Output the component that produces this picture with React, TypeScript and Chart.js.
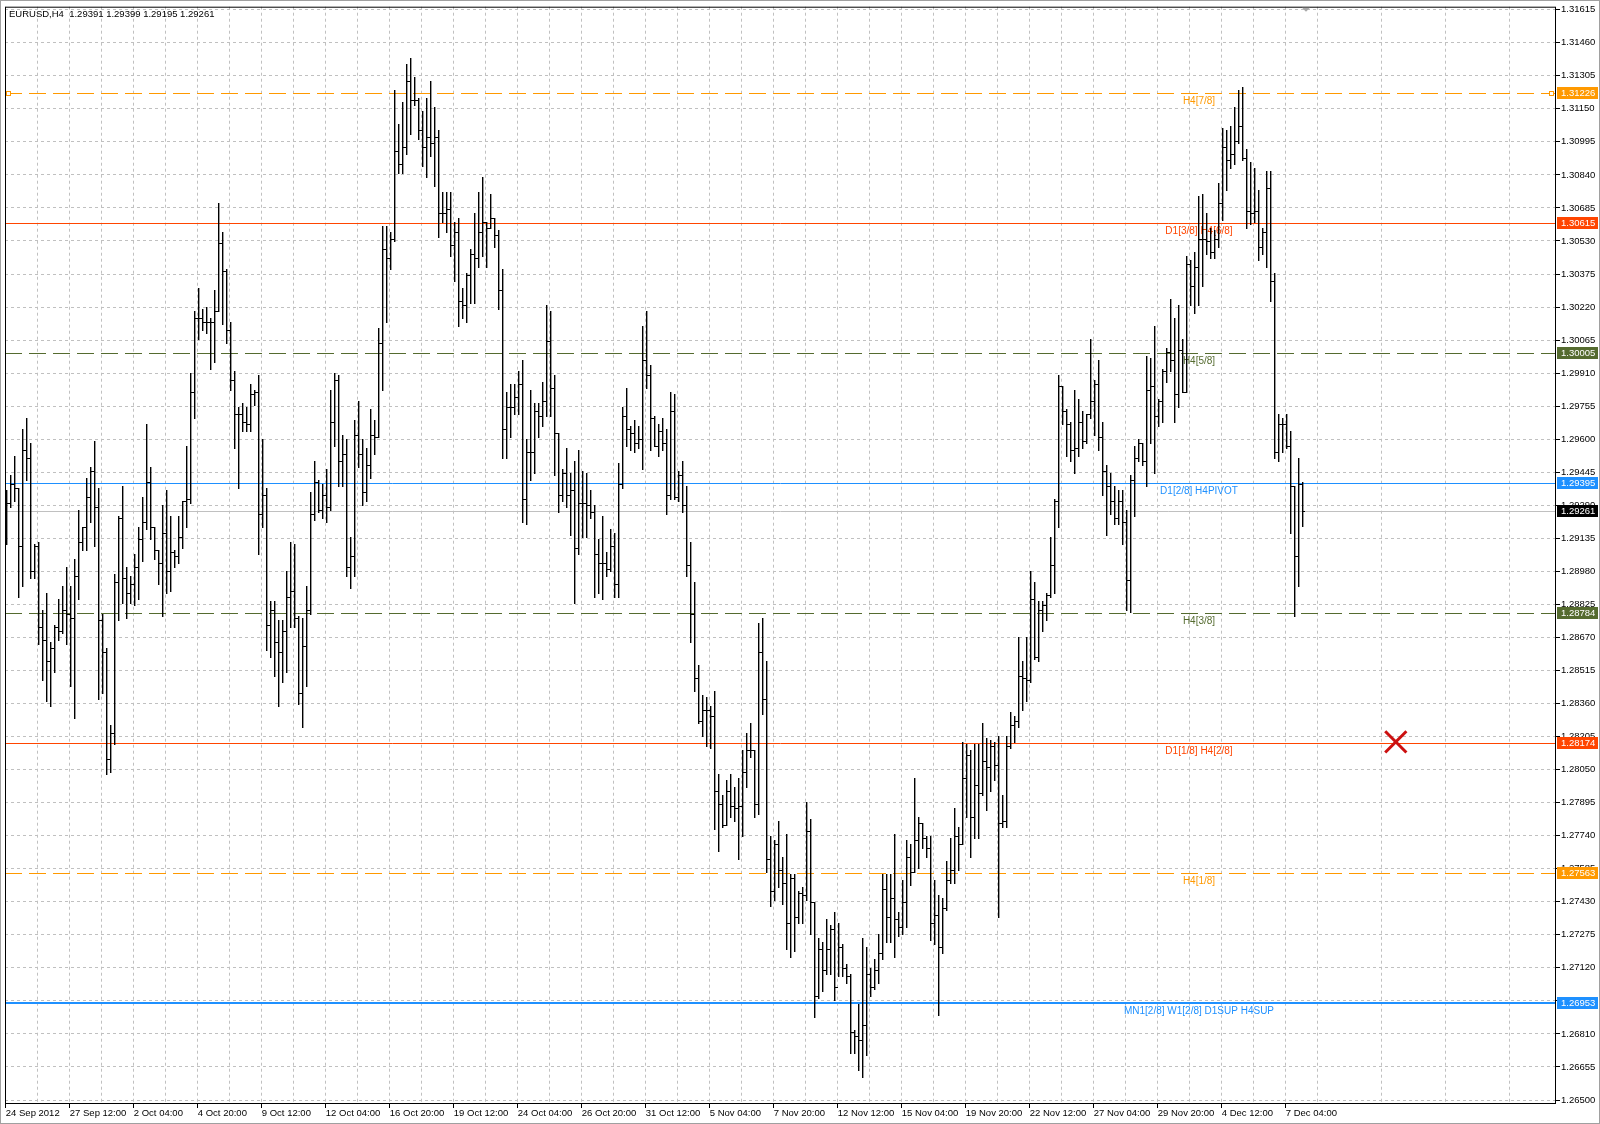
import React, { useEffect, useRef } from 'react';
import { Chart, registerables } from 'chart.js';

Chart.register(...registerables);

// ---------------- data ----------------
const symbol = 'EURUSD,H4';

const xLabels = [
  '24 Sep 2012', '27 Sep 12:00', '2 Oct 04:00', '4 Oct 20:00', '9 Oct 12:00', '12 Oct 04:00',
  '16 Oct 20:00', '19 Oct 12:00', '24 Oct 04:00', '26 Oct 20:00', '31 Oct 12:00', '5 Nov 04:00',
  '7 Nov 20:00', '12 Nov 12:00', '15 Nov 04:00', '19 Nov 20:00', '22 Nov 12:00', '27 Nov 04:00',
  '29 Nov 20:00', '4 Dec 12:00', '7 Dec 04:00',
];

const yTickLabels = [
  '1.26500', '1.26655', '1.26810', '1.26965', '1.27120', '1.27275', '1.27430', '1.27585', '1.27740',
  '1.27895', '1.28050', '1.28205', '1.28360', '1.28515', '1.28670', '1.28825', '1.28980', '1.29135',
  '1.29290', '1.29445', '1.29600', '1.29755', '1.29910', '1.30065', '1.30220', '1.30375', '1.30530',
  '1.30685', '1.30840', '1.30995', '1.31150', '1.31305', '1.31460', '1.31615',
];

const opens = [
  1.2925, 1.2930, 1.2939, 1.2937, 1.2910, 1.2955, 1.2951, 1.2898, 1.2910, 1.2872,
  1.2866, 1.2856, 1.2862, 1.2872, 1.2870, 1.2880, 1.2878, 1.2876, 1.2896, 1.2912,
  1.2919, 1.2933, 1.2945, 1.2928, 1.2875, 1.2860, 1.2810, 1.2822, 1.2893, 1.2923,
  1.2895, 1.2888, 1.2892, 1.2900, 1.2913, 1.2921, 1.2940, 1.2919, 1.2908, 1.2902,
  1.2916, 1.2898, 1.2907, 1.2905, 1.2914, 1.2931, 1.2932, 1.2982, 1.3017, 1.3017,
  1.3015, 1.3015, 1.3015, 1.3020, 1.3052, 1.3039, 1.3011, 1.2988, 1.2972, 1.2972,
  1.2968, 1.2967, 1.2981, 1.2982, 1.2925, 1.2934, 1.2873, 1.2880, 1.2865, 1.2860,
  1.2870, 1.2886, 1.2889, 1.2876, 1.2841, 1.2863, 1.2880, 1.2925, 1.2940, 1.2927,
  1.2934, 1.2928, 1.2968, 1.2988, 1.2950, 1.2953, 1.2900, 1.2905, 1.2962, 1.2953,
  1.2935, 1.2948, 1.2962, 1.2961, 1.3005, 1.3049, 1.3045, 1.3054, 1.3095, 1.3089,
  1.3097, 1.3128, 1.3119, 1.3119, 1.3105, 1.3097, 1.3102, 1.3099, 1.3102, 1.3066,
  1.3066, 1.3068, 1.3051, 1.3057, 1.3025, 1.3023, 1.3037, 1.3047, 1.3045, 1.3057,
  1.3062, 1.3059, 1.3064, 1.3056, 1.3030, 1.2965, 1.2975, 1.2975, 1.2980, 1.2986,
  1.2932, 1.2954, 1.2954, 1.2973, 1.2971, 1.2978, 1.3006, 1.2984, 1.2963, 1.2934,
  1.2944, 1.2934, 1.2936, 1.2909, 1.2930, 1.2930, 1.2929, 1.2926, 1.2906, 1.2902,
  1.2902, 1.2899, 1.2910, 1.2892, 1.2939, 1.2971, 1.2965, 1.2963, 1.2958, 1.2960,
  1.2997, 1.2990, 1.2970, 1.2957, 1.2964, 1.2958, 1.2934, 1.2973, 1.2933, 1.2943,
  1.2929, 1.2901, 1.2878, 1.2848, 1.2828, 1.2833, 1.2833, 1.2830, 1.2795, 1.2789,
  1.2779, 1.2795, 1.2788, 1.2787, 1.2788, 1.2804, 1.2814, 1.2814, 1.2789, 1.2860,
  1.2838, 1.2763, 1.2748, 1.2770, 1.2758, 1.2752, 1.2733, 1.2754, 1.2736, 1.2747,
  1.2746, 1.2776, 1.2743, 1.2699, 1.2721, 1.2711, 1.2721, 1.2730, 1.2703, 1.2722,
  1.2712, 1.2708, 1.2682, 1.2680, 1.2678, 1.2685, 1.2709, 1.2703, 1.2711, 1.2719,
  1.2749, 1.2736, 1.2745, 1.2735, 1.2731, 1.2743, 1.2764, 1.2757, 1.2772, 1.2780,
  1.2773, 1.2768, 1.2733, 1.2737, 1.2722, 1.2740, 1.2753, 1.2758, 1.2774, 1.2770,
  1.2801, 1.2812, 1.2783, 1.2798, 1.2794, 1.2809, 1.2806, 1.2816, 1.2807, 1.2780,
  1.2781, 1.2816, 1.2826, 1.2828, 1.2849, 1.2848, 1.2847, 1.2885, 1.2858, 1.2880,
  1.2882, 1.2887, 1.2901, 1.2931, 1.2985, 1.2973, 1.2967, 1.2955, 1.2956, 1.2968,
  1.2959, 1.2972, 1.2978, 1.2986, 1.2961, 1.2945, 1.2938, 1.2931, 1.2923, 1.2931,
  1.2921, 1.2894, 1.2941, 1.2951, 1.2958, 1.2950, 1.2983, 1.2985, 1.2971, 1.2978,
  1.2992, 1.3001, 1.2997, 1.2981, 1.3002, 1.2982, 1.3042, 1.3032, 1.3041, 1.3054,
  1.3054, 1.3053, 1.3048, 1.3054, 1.3071, 1.3097, 1.3091, 1.3094, 1.3100, 1.3107,
  1.3092, 1.3067, 1.3066, 1.3067, 1.3050, 1.3057, 1.3078, 1.3034, 1.2954, 1.2967,
  1.2967, 1.2957, 1.2938, 1.2905, 1.29391,
];

const highs = [
  1.2936, 1.2943, 1.2952, 1.2937, 1.2965, 1.2970, 1.2958, 1.2911, 1.2912, 1.2880,
  1.2888, 1.2865, 1.2873, 1.2885, 1.2891, 1.2900, 1.2891, 1.2904, 1.2927, 1.2919,
  1.2942, 1.2947, 1.2959, 1.2937, 1.2878, 1.2862, 1.2826, 1.2897, 1.2924, 1.2938,
  1.2900, 1.2896, 1.2906, 1.2919, 1.2933, 1.2967, 1.2947, 1.2919, 1.2908, 1.2929,
  1.2936, 1.2924, 1.2908, 1.2924, 1.2931, 1.2957, 1.2991, 1.3020, 1.3031, 1.3021,
  1.3022, 1.3017, 1.3030, 1.3071, 1.3057, 1.3040, 1.3015, 1.2992, 1.2975, 1.2977,
  1.2975, 1.2986, 1.2983, 1.2990, 1.2960, 1.2937, 1.2884, 1.2884, 1.2875, 1.2875,
  1.2898, 1.2912, 1.2911, 1.2877, 1.2876, 1.2891, 1.2935, 1.2950, 1.2941, 1.2939,
  1.2946, 1.2983, 1.2991, 1.2990, 1.2962, 1.2960, 1.2914, 1.2969, 1.2978, 1.2960,
  1.2956, 1.2974, 1.2969, 1.3012, 1.3060, 1.3060, 1.3057, 1.3124, 1.3108, 1.3118,
  1.3136, 1.3139, 1.3130, 1.3120, 1.3114, 1.3120, 1.3128, 1.3116, 1.3105, 1.3076,
  1.3076, 1.3076, 1.3062, 1.3064, 1.3031, 1.3038, 1.3049, 1.3066, 1.3076, 1.3083,
  1.3062, 1.3075, 1.3064, 1.3058, 1.3040, 1.2982, 1.2986, 1.2986, 1.2992, 1.2997,
  1.2960, 1.2983, 1.2977, 1.2977, 1.2987, 1.3023, 1.3020, 1.2990, 1.2963, 1.2946,
  1.2956, 1.2944, 1.2950, 1.2955, 1.2945, 1.2944, 1.2936, 1.2929, 1.2913, 1.2924,
  1.2907, 1.2918, 1.2916, 1.2949, 1.2975, 1.2984, 1.2966, 1.2969, 1.2966, 1.3013,
  1.3020, 1.2995, 1.2971, 1.2967, 1.2970, 1.2965, 1.2982, 1.2981, 1.2945, 1.2950,
  1.2938, 1.2912, 1.2893, 1.2854, 1.2840, 1.2839, 1.2835, 1.2842, 1.2803, 1.2793,
  1.2800, 1.2803, 1.2797, 1.2801, 1.2814, 1.2822, 1.2827, 1.2814, 1.2874, 1.2876,
  1.2856, 1.2774, 1.2772, 1.2781, 1.2764, 1.2775, 1.2756, 1.2756, 1.2748, 1.2750,
  1.2790, 1.2782, 1.2743, 1.2726, 1.2724, 1.2735, 1.2732, 1.2738, 1.2733, 1.2723,
  1.2714, 1.2709, 1.2683, 1.2695, 1.2726, 1.2722, 1.2712, 1.2716, 1.2728, 1.2756,
  1.2756, 1.2756, 1.2775, 1.2738, 1.2753, 1.2772, 1.2770, 1.2801, 1.2783, 1.2780,
  1.2774, 1.2774, 1.2753, 1.2746, 1.2745, 1.2762, 1.2773, 1.2787, 1.2778, 1.2818,
  1.2817, 1.2814, 1.2817, 1.2817, 1.2827, 1.2820, 1.2819, 1.2818, 1.2821, 1.2793,
  1.2821, 1.2832, 1.2830, 1.2867, 1.2856, 1.2867, 1.2898, 1.2893, 1.2884, 1.2884,
  1.2888, 1.2914, 1.2932, 1.2990, 1.2985, 1.2974, 1.2968, 1.2983, 1.2979, 1.2973,
  1.2972, 1.3007, 1.2988, 1.2997, 1.2968, 1.2948, 1.2944, 1.2938, 1.2936, 1.2936,
  1.2927, 1.2943, 1.2957, 1.2960, 1.2958, 1.2999, 1.2998, 1.3013, 1.2979, 1.2993,
  1.3003, 1.3026, 1.3017, 1.3023, 1.3007, 1.3046, 1.3044, 1.3048, 1.3074, 1.3075,
  1.3066, 1.3059, 1.3058, 1.3080, 1.3106, 1.3105, 1.3107, 1.3116, 1.3124, 1.3125,
  1.3096, 1.3090, 1.3087, 1.3077, 1.3059, 1.3086, 1.3086, 1.3038, 1.2972, 1.2970,
  1.2972, 1.2964, 1.2938, 1.2951, 1.29399,
];

const lows = [
  1.2911, 1.2928, 1.2931, 1.2886, 1.2891, 1.2941, 1.2895, 1.2895, 1.2864, 1.2847,
  1.2837, 1.2835, 1.2851, 1.2866, 1.2869, 1.2864, 1.2844, 1.2829, 1.2885, 1.2908,
  1.2908, 1.2921, 1.2910, 1.2838, 1.2841, 1.2803, 1.2804, 1.2817, 1.2875, 1.2883,
  1.2876, 1.2883, 1.2882, 1.2885, 1.2903, 1.2918, 1.2913, 1.2904, 1.2892, 1.2877,
  1.2888, 1.2889, 1.2900, 1.2902, 1.2909, 1.2919, 1.2930, 1.2970, 1.3007, 1.3011,
  1.3010, 1.2993, 1.2996, 1.3020, 1.3014, 1.3005, 1.2983, 1.2956, 1.2937, 1.2964,
  1.2964, 1.2964, 1.2976, 1.2906, 1.2919, 1.2861, 1.2858, 1.2849, 1.2835, 1.2846,
  1.2851, 1.2872, 1.2872, 1.2836, 1.2825, 1.2844, 1.2878, 1.2922, 1.2926, 1.2923,
  1.2921, 1.2927, 1.2957, 1.2938, 1.2938, 1.2896, 1.2890, 1.2896, 1.2947, 1.2929,
  1.2931, 1.2942, 1.2953, 1.2961, 1.2983, 1.3015, 1.3040, 1.3053, 1.3085, 1.3085,
  1.3094, 1.3103, 1.3117, 1.3101, 1.3088, 1.3083, 1.3093, 1.3079, 1.3055, 1.3062,
  1.3057, 1.3046, 1.3034, 1.3013, 1.3017, 1.3015, 1.3024, 1.3024, 1.3041, 1.3046,
  1.3041, 1.3059, 1.3050, 1.3021, 1.2951, 1.2951, 1.2961, 1.2972, 1.2972, 1.2921,
  1.2920, 1.2941, 1.2944, 1.2961, 1.2966, 1.2971, 1.2971, 1.2943, 1.2926, 1.2931,
  1.2928, 1.2915, 1.2883, 1.2906, 1.2914, 1.2914, 1.2923, 1.2886, 1.2888, 1.2885,
  1.2896, 1.2898, 1.2886, 1.2886, 1.2937, 1.2957, 1.2955, 1.2954, 1.2956, 1.2946,
  1.2984, 1.2955, 1.2957, 1.2952, 1.2955, 1.2925, 1.2932, 1.2932, 1.2931, 1.2926,
  1.2896, 1.2865, 1.2842, 1.2827, 1.2821, 1.2816, 1.2815, 1.2777, 1.2767, 1.2778,
  1.2779, 1.2783, 1.2781, 1.2763, 1.2774, 1.2797, 1.2811, 1.2783, 1.2784, 1.2831,
  1.2757, 1.2741, 1.2744, 1.2750, 1.2742, 1.2721, 1.2717, 1.2720, 1.2733, 1.2733,
  1.2744, 1.2728, 1.2689, 1.2698, 1.2701, 1.2709, 1.2709, 1.2697, 1.2708, 1.2708,
  1.2705, 1.2672, 1.2672, 1.2664, 1.2661, 1.2671, 1.2699, 1.2702, 1.2705, 1.2716,
  1.2724, 1.2724, 1.2717, 1.2727, 1.2728, 1.2731, 1.2751, 1.2757, 1.2759, 1.2768,
  1.2764, 1.2725, 1.2723, 1.2690, 1.2719, 1.2739, 1.2752, 1.2752, 1.2758, 1.2770,
  1.2783, 1.2764, 1.2773, 1.2773, 1.2793, 1.2786, 1.2795, 1.2800, 1.2736, 1.2778,
  1.2778, 1.2815, 1.2818, 1.2825, 1.2833, 1.2837, 1.2846, 1.2857, 1.2856, 1.2870,
  1.2875, 1.2886, 1.2888, 1.2919, 1.2967, 1.2952, 1.2950, 1.2944, 1.2952, 1.2956,
  1.2958, 1.2970, 1.2962, 1.2955, 1.2934, 1.2915, 1.2925, 1.2920, 1.2920, 1.2911,
  1.2880, 1.2879, 1.2924, 1.2950, 1.2948, 1.2938, 1.2958, 1.2944, 1.2966, 1.2968,
  1.2987, 1.2992, 1.2968, 1.2975, 1.2982, 1.2982, 1.3023, 1.3019, 1.3023, 1.3032,
  1.3047, 1.3045, 1.3045, 1.3050, 1.3063, 1.3077, 1.3087, 1.3089, 1.3099, 1.3091,
  1.3059, 1.3061, 1.3062, 1.3044, 1.3047, 1.3041, 1.3025, 1.2951, 1.2950, 1.2954,
  1.2956, 1.2916, 1.2877, 1.2891, 1.29195,
];

const closes = [
  1.2930, 1.2939, 1.2937, 1.2910, 1.2955, 1.2951, 1.2898, 1.2910, 1.2872, 1.2866,
  1.2856, 1.2862, 1.2872, 1.2870, 1.2880, 1.2878, 1.2876, 1.2896, 1.2912, 1.2919,
  1.2933, 1.2945, 1.2928, 1.2875, 1.2860, 1.2810, 1.2822, 1.2893, 1.2923, 1.2895,
  1.2888, 1.2892, 1.2900, 1.2913, 1.2921, 1.2940, 1.2919, 1.2908, 1.2902, 1.2916,
  1.2898, 1.2907, 1.2905, 1.2914, 1.2931, 1.2932, 1.2982, 1.3017, 1.3017, 1.3015,
  1.3015, 1.3015, 1.3020, 1.3052, 1.3039, 1.3011, 1.2988, 1.2972, 1.2972, 1.2968,
  1.2967, 1.2981, 1.2982, 1.2925, 1.2934, 1.2873, 1.2880, 1.2865, 1.2860, 1.2870,
  1.2886, 1.2889, 1.2876, 1.2841, 1.2863, 1.2880, 1.2925, 1.2940, 1.2927, 1.2934,
  1.2928, 1.2968, 1.2988, 1.2950, 1.2953, 1.2900, 1.2905, 1.2962, 1.2953, 1.2935,
  1.2948, 1.2962, 1.2961, 1.3005, 1.3049, 1.3045, 1.3054, 1.3095, 1.3089, 1.3097,
  1.3128, 1.3119, 1.3119, 1.3105, 1.3097, 1.3102, 1.3099, 1.3102, 1.3066, 1.3066,
  1.3068, 1.3051, 1.3057, 1.3025, 1.3023, 1.3037, 1.3047, 1.3045, 1.3057, 1.3062,
  1.3059, 1.3064, 1.3056, 1.3030, 1.2965, 1.2975, 1.2975, 1.2980, 1.2986, 1.2932,
  1.2954, 1.2954, 1.2973, 1.2971, 1.2978, 1.3006, 1.2984, 1.2963, 1.2934, 1.2944,
  1.2934, 1.2936, 1.2909, 1.2930, 1.2930, 1.2929, 1.2926, 1.2906, 1.2902, 1.2902,
  1.2899, 1.2910, 1.2892, 1.2939, 1.2971, 1.2965, 1.2963, 1.2958, 1.2960, 1.2997,
  1.2990, 1.2970, 1.2957, 1.2964, 1.2958, 1.2934, 1.2973, 1.2933, 1.2943, 1.2929,
  1.2901, 1.2878, 1.2848, 1.2828, 1.2833, 1.2833, 1.2830, 1.2795, 1.2789, 1.2779,
  1.2795, 1.2788, 1.2787, 1.2788, 1.2804, 1.2814, 1.2814, 1.2789, 1.2860, 1.2838,
  1.2763, 1.2748, 1.2770, 1.2758, 1.2752, 1.2733, 1.2754, 1.2736, 1.2747, 1.2746,
  1.2776, 1.2743, 1.2699, 1.2721, 1.2711, 1.2721, 1.2730, 1.2703, 1.2722, 1.2712,
  1.2708, 1.2682, 1.2680, 1.2678, 1.2685, 1.2709, 1.2703, 1.2711, 1.2719, 1.2749,
  1.2736, 1.2745, 1.2735, 1.2731, 1.2743, 1.2764, 1.2757, 1.2772, 1.2780, 1.2773,
  1.2768, 1.2733, 1.2737, 1.2722, 1.2740, 1.2753, 1.2758, 1.2774, 1.2770, 1.2801,
  1.2812, 1.2783, 1.2798, 1.2794, 1.2809, 1.2806, 1.2816, 1.2807, 1.2780, 1.2781,
  1.2816, 1.2826, 1.2828, 1.2849, 1.2848, 1.2847, 1.2885, 1.2858, 1.2880, 1.2882,
  1.2887, 1.2901, 1.2931, 1.2985, 1.2973, 1.2967, 1.2955, 1.2956, 1.2968, 1.2959,
  1.2972, 1.2978, 1.2986, 1.2961, 1.2945, 1.2938, 1.2931, 1.2923, 1.2931, 1.2921,
  1.2894, 1.2941, 1.2951, 1.2958, 1.2950, 1.2983, 1.2985, 1.2971, 1.2978, 1.2992,
  1.3001, 1.2997, 1.2981, 1.3002, 1.2982, 1.3042, 1.3032, 1.3041, 1.3054, 1.3054,
  1.3053, 1.3048, 1.3054, 1.3071, 1.3097, 1.3091, 1.3094, 1.3100, 1.3107, 1.3092,
  1.3067, 1.3066, 1.3067, 1.3050, 1.3057, 1.3078, 1.3034, 1.2954, 1.2967, 1.2967,
  1.2957, 1.2938, 1.2905, 1.2939, 1.29261,
];

const levelPrices = [1.31226, 1.30615, 1.30005, 1.29395, 1.28784, 1.28174, 1.27563, 1.26953];
const levelTexts = [
  'H4[7/8]', 'D1[3/8] H4[6/8]', 'H4[5/8]', 'D1[2/8] H4PIVOT', 'H4[3/8]',
  'D1[1/8] H4[2/8]', 'H4[1/8]', 'MN1[2/8] W1[2/8] D1SUP H4SUP',
];
const bidPrice = 1.29261;
const markerPoint = [{ x: 347.5, y: 1.2818 }];

// ---------------- styles ----------------
const levelColors = ['#FF9900', '#FF4500', '#556B2F', '#1E90FF', '#556B2F', '#FF4500', '#FF9900', '#1E90FF'];
const levelDashed = [true, false, true, false, true, false, true, false];
const levelWidths = [1, 1, 1, 1, 1, 1, 1, 2];
const LABEL_BAR = 298.3;
const BARS_PER_LABEL = 16;
const BARS_PER_GRID = 8;
const X_MIN = -0.2;
const X_MAX = 387.55;
const Y_MIN = 1.264813;
const Y_MAX = 1.31629;
const FONT = '"Liberation Sans", Arial, sans-serif';
const GRID = '#c0c0c0';
const BAR_W = 1.4;

const fmt = (v: number) => v.toFixed(5);

const mt4Plugin = {
  id: 'mt4',
  beforeDraw(chart: any) {
    const ctx = chart.ctx;
    ctx.save();
    ctx.fillStyle = '#ffffff';
    ctx.fillRect(0, 0, chart.width, chart.height);
    ctx.restore();
  },
  beforeDatasetsDraw(chart: any) {
    const { ctx, chartArea: a, scales } = chart;
    const x = scales.x;
    const y = scales.y;
    ctx.save();
    ctx.beginPath();
    ctx.rect(a.left, a.top, a.right - a.left, a.bottom - a.top);
    ctx.clip();

    // bid line
    ctx.setLineDash([]);
    ctx.lineWidth = 1;
    ctx.strokeStyle = GRID;
    const yb = Math.round(y.getPixelForValue(bidPrice)) + 0.5;
    ctx.beginPath();
    ctx.moveTo(a.left, yb);
    ctx.lineTo(a.right, yb);
    ctx.stroke();

    // level lines
    levelPrices.forEach((p, i) => {
      const w = levelWidths[i];
      const py = Math.round(y.getPixelForValue(p)) + (w % 2 ? 0.5 : 0);
      ctx.strokeStyle = levelColors[i];
      ctx.lineWidth = w;
      ctx.setLineDash(levelDashed[i] ? [17, 7] : []);
      ctx.beginPath();
      ctx.moveTo(a.left, py);
      ctx.lineTo(a.right, py);
      ctx.stroke();
    });
    ctx.setLineDash([]);

    // level texts
    ctx.font = `10px ${FONT}`;
    ctx.textAlign = 'center';
    ctx.textBaseline = 'middle';
    const lx = x.getPixelForValue(LABEL_BAR);
    levelPrices.forEach((p, i) => {
      ctx.fillStyle = levelColors[i];
      ctx.fillText(levelTexts[i], lx, Math.round(y.getPixelForValue(p)) + 8);
    });

    // OHLC bars
    ctx.fillStyle = '#000000';
    for (let i = 0; i < closes.length; i++) {
      const px = Math.round(x.getPixelForValue(i));
      const yh = Math.round(y.getPixelForValue(highs[i]));
      const yl = Math.round(y.getPixelForValue(lows[i]));
      ctx.fillRect(px, yh, BAR_W, Math.max(1, yl - yh + 1));
      const yo = Math.round(y.getPixelForValue(opens[i]));
      const yc = Math.round(y.getPixelForValue(closes[i]));
      ctx.fillRect(px - 2, yo, 2, 1);
      ctx.fillRect(px + 1, yc, 2, 1);
    }
    ctx.restore();
  },
  afterDraw(chart: any) {
    const { ctx, chartArea: a, scales } = chart;
    const x = scales.x;
    const y = scales.y;
    ctx.save();

    // outer window edge
    ctx.strokeStyle = '#a0a0a0';
    ctx.lineWidth = 1;
    ctx.strokeRect(0.5, 0.5, chart.width - 1, chart.height - 1);

    // plot frame
    ctx.strokeStyle = '#000000';
    ctx.strokeRect(a.left + 0.5, a.top + 0.5, a.right - a.left - 1, a.bottom - a.top - 1);

    // end squares on the first level
    const sy = Math.round(y.getPixelForValue(levelPrices[0]));
    ctx.fillStyle = '#ffffff';
    ctx.strokeStyle = levelColors[0];
    [a.left + 1.5, a.right - 6.5].forEach((sx) => {
      ctx.fillRect(sx, sy - 1.5, 4, 4);
      ctx.strokeRect(sx, sy - 1.5, 4, 4);
    });

    // price boxes on the axis
    ctx.font = `9.5px ${FONT}`;
    ctx.textAlign = 'left';
    ctx.textBaseline = 'middle';
    const boxes = levelPrices.map((p, i) => ({ p, c: levelColors[i] }));
    boxes.push({ p: bidPrice, c: '#000000' });
    boxes.forEach((b) => {
      const py = Math.round(y.getPixelForValue(b.p));
      ctx.fillStyle = b.c;
      ctx.fillRect(a.right + 1, py - 6, chart.width - a.right - 3, 12);
      ctx.fillStyle = '#ffffff';
      ctx.fillText(fmt(b.p), a.right + 5, py + 0.5);
    });

    // title
    const last = closes.length - 1;
    ctx.fillStyle = '#000000';
    ctx.font = `9.5px ${FONT}`;
    ctx.fillText(
      `${symbol}  ${fmt(opens[last])} ${fmt(highs[last])} ${fmt(lows[last])} ${fmt(closes[last])}`,
      a.left + 4,
      a.top + 8,
    );

    // chart shift marker
    const tx = Math.round(x.getPixelForValue(closes.length));
    ctx.fillStyle = '#a8a8a8';
    ctx.beginPath();
    ctx.moveTo(tx - 4, a.top + 1);
    ctx.lineTo(tx + 4, a.top + 1);
    ctx.lineTo(tx, a.top + 5);
    ctx.closePath();
    ctx.fill();

    ctx.restore();
  },
};

export default function App() {
  const ref = useRef<HTMLCanvasElement | null>(null);

  useEffect(() => {
    if (!ref.current) return;
    const xGridTicks: number[] = [];
    for (let v = 0; v <= X_MAX; v += BARS_PER_GRID) xGridTicks.push(v);

    const chart = new Chart(ref.current, {
      type: 'scatter',
      data: {
        datasets: [
          {
            data: markerPoint,
            pointStyle: 'crossRot',
            pointRadius: 15,
            pointBorderWidth: 3,
            borderColor: '#cc1010',
            backgroundColor: '#cc1010',
            clip: false,
          } as any,
        ],
      },
      options: {
        animation: false,
        responsive: false,
        devicePixelRatio: 1,
        events: [],
        layout: { autoPadding: false, padding: { left: 5, top: 5, right: 0, bottom: 0 } },
        plugins: { legend: { display: false }, tooltip: { enabled: false } },
        scales: {
          x: {
            type: 'linear',
            position: 'bottom',
            min: X_MIN,
            max: X_MAX,
            afterBuildTicks: (s: any) => {
              s.ticks = xGridTicks.map((v) => ({ value: v }));
            },
            afterFit: (s: any) => {
              s.height = 20;
            },
            ticks: {
              autoSkip: false,
              maxRotation: 0,
              minRotation: 0,
              align: 'start',
              padding: 0,
              color: '#000000',
              font: { family: FONT, size: 9.5 },
              callback: (v: any) => (Number(v) % BARS_PER_LABEL === 0 ? xLabels[Number(v) / BARS_PER_LABEL] : ''),
            },
            grid: {
              color: GRID,
              lineWidth: 1,
              drawTicks: true,
              tickLength: 4,
              tickWidth: 1,
              tickBorderDash: [1, 0],
              tickColor: (c: any) =>
                c.tick && c.tick.value % BARS_PER_LABEL === 0 ? '#000000' : 'rgba(0,0,0,0)',
            },
            border: { display: false, dash: [3, 3] },
          },
          y: {
            type: 'linear',
            position: 'right',
            min: Y_MIN,
            max: Y_MAX,
            afterBuildTicks: (s: any) => {
              s.ticks = yTickLabels.map((t) => ({ value: parseFloat(t) }));
            },
            afterFit: (s: any) => {
              s.width = 44;
            },
            ticks: {
              padding: 1,
              color: '#000000',
              font: { family: FONT, size: 9.5 },
              callback: (v: any) => Number(v).toFixed(5),
            },
            grid: {
              color: GRID,
              lineWidth: 1,
              drawTicks: true,
              tickLength: 4,
              tickWidth: 1,
              tickBorderDash: [1, 0],
              tickColor: '#000000',
            },
            border: { display: false, dash: [3, 3] },
          },
        },
      } as any,
      plugins: [mt4Plugin as any],
    });
    return () => chart.destroy();
  }, []);

  return (
    <div style={{ position: 'absolute', left: 0, top: 0, width: 1600, height: 1124 }}>
      <canvas ref={ref} width={1600} height={1124} style={{ display: 'block' }} />
    </div>
  );
}
